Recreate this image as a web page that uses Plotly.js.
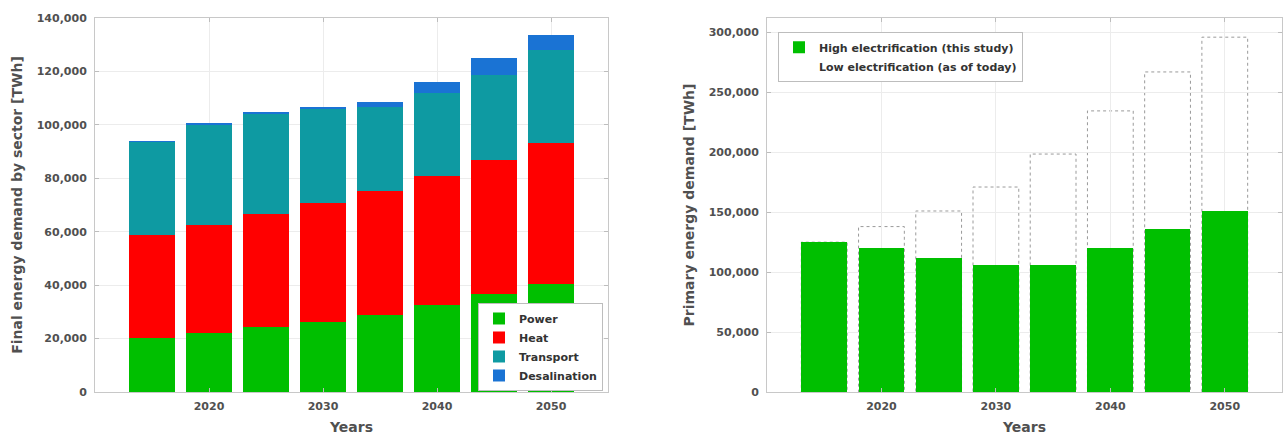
<!DOCTYPE html>
<html>
<head>
<meta charset="utf-8">
<script src="https://cdn.plot.ly/plotly-3.0.1.min.js"></script>
<style>
html,body{margin:0;padding:0;background:#fff;}
#chart{width:1284px;height:435px;}
</style>
</head>
<body>
<div id="chart"></div>
<script>
// ---- data (left: final energy demand by sector, TWh) ----
const years = [2015, 2020, 2025, 2030, 2035, 2040, 2045, 2050];
const power = [20200, 22200, 24300, 26300, 29000, 32500, 36500, 40500];
const heat = [38700, 40500, 42200, 44500, 46300, 48300, 50300, 52700];
const transport = [34600, 37400, 37600, 35200, 31500, 31000, 32000, 34800];
const desalination = [600, 600, 600, 800, 1900, 4400, 6100, 5800];
// ---- data (right: primary energy demand, TWh) ----
const highElectrification = [125000, 120500, 112000, 106300, 106000, 120000, 136000, 151000];
const lowElectrification = [125000, 138000, 151000, 171000, 198500, 234500, 267000, 296000];
// ---- tick labels ----
const xTicks = [2020, 2030, 2040, 2050];
const yTicksLeft = [0, 20000, 40000, 60000, 80000, 100000, 120000, 140000];
const yTicksRight = [0, 50000, 100000, 150000, 200000, 250000, 300000];

const FONT = '"DejaVu Sans", Verdana, sans-serif';
const BAR_W = 4;
const W = 1284;
const tickFont = {family: FONT, size: 11, color: '#505050', weight: 'bold'};
const titleFont = {family: FONT, size: 14, color: '#505050', weight: 'bold'};
const legendFont = {family: FONT, size: 11, color: '#333333', weight: 'bold'};

const data = [
  {type: 'bar', name: 'Power', x: years, y: power, width: BAR_W, xaxis: 'x', yaxis: 'y',
   marker: {color: '#00bf00', line: {width: 0}}, legend: 'legend'},
  {type: 'bar', name: 'Heat', x: years, y: heat, width: BAR_W, xaxis: 'x', yaxis: 'y',
   marker: {color: '#ff0000', line: {width: 0}}, legend: 'legend'},
  {type: 'bar', name: 'Transport', x: years, y: transport, width: BAR_W, xaxis: 'x', yaxis: 'y',
   marker: {color: '#0e9aa2', line: {width: 0}}, legend: 'legend'},
  {type: 'bar', name: 'Desalination', x: years, y: desalination, width: BAR_W, xaxis: 'x', yaxis: 'y',
   marker: {color: '#1a73d4', line: {width: 0}}, legend: 'legend'},
  {type: 'bar', name: 'High electrification (this study)', x: years, y: highElectrification, width: BAR_W,
   xaxis: 'x2', yaxis: 'y3', marker: {color: '#00bf00', line: {width: 0}}, legend: 'legend2'},
  {type: 'bar', name: 'Low electrification (as of today)', x: years, y: lowElectrification, width: BAR_W,
   xaxis: 'x2', yaxis: 'y2', marker: {color: 'rgba(255,255,255,0)', line: {width: 0}}, legend: 'legend2'}
];

// dotted outlines for the low-electrification bars, placed through the x2/y2 axes
const shapes = years.map((yr, i) => ({
  type: 'rect', xref: 'x2', yref: 'y2', layer: 'below',
  x0: yr - BAR_W / 2, x1: yr + BAR_W / 2, y0: 0, y1: lowElectrification[i],
  line: {color: '#9a9a9a', width: 1, dash: 'dot'}, fillcolor: 'rgba(0,0,0,0)'
}));

function xAxis(domain, anchor) {
  return {
    domain: domain, anchor: anchor, range: [2010, 2055],
    tickmode: 'array', tickvals: xTicks, ticktext: xTicks.map(String),
    ticks: 'inside', ticklen: 4, tickcolor: '#bdbdbd',
    showline: true, linecolor: '#c8c8c8', linewidth: 1, mirror: 'ticks',
    showgrid: true, gridcolor: '#ececec', zeroline: false,
    tickfont: tickFont, ticklabelstandoff: 4,
    title: {text: 'Years', font: titleFont, standoff: 17}
  };
}
function yAxis(range, ticks, anchor, title) {
  return {
    anchor: anchor, range: range, domain: [0, 1],
    tickmode: 'array', tickvals: ticks, tickformat: ',d',
    ticks: 'inside', ticklen: 4, tickcolor: '#bdbdbd',
    showline: true, linecolor: '#c8c8c8', linewidth: 1, mirror: 'ticks',
    showgrid: true, gridcolor: '#ececec', zeroline: false,
    tickfont: tickFont, ticklabelstandoff: 5,
    title: {text: title, font: titleFont, standoff: 10}
  };
}

const layout = {
  width: W, height: 435,
  margin: {l: 0, r: 0, t: 18, b: 43, pad: 0},
  paper_bgcolor: '#ffffff', plot_bgcolor: '#ffffff',
  barmode: 'stack', bargap: 0,
  font: {family: FONT, color: '#505050'},
  xaxis: xAxis([95 / W, 608 / W], 'y'),
  yaxis: yAxis([0, 140000], yTicksLeft, 'x', 'Final energy demand by sector [TWh]'),
  xaxis2: xAxis([767 / W, 1282 / W], 'y2'),
  yaxis2: yAxis([0, 312000], yTicksRight, 'x2', 'Primary energy demand [TWh]'),
  yaxis3: {overlaying: 'y2', anchor: 'x2', range: [0, 312000], visible: false,
           showgrid: false, zeroline: false},
  shapes: shapes,
  legend: {
    x: 478 / W, y: 0.238, xanchor: 'left', yanchor: 'top',
    traceorder: 'normal', bgcolor: '#ffffff', bordercolor: '#bdbdbd', borderwidth: 1,
    font: legendFont, itemwidth: 30, tracegroupgap: 0
  },
  legend2: {
    x: 778 / W, y: 0.963, xanchor: 'left', yanchor: 'top',
    traceorder: 'normal', bgcolor: '#ffffff', bordercolor: '#bdbdbd', borderwidth: 1,
    font: legendFont, itemwidth: 30, tracegroupgap: 0
  },
  showlegend: true
};

Plotly.newPlot('chart', data, layout, {displayModeBar: false, staticPlot: true});
</script>
</body>
</html>
